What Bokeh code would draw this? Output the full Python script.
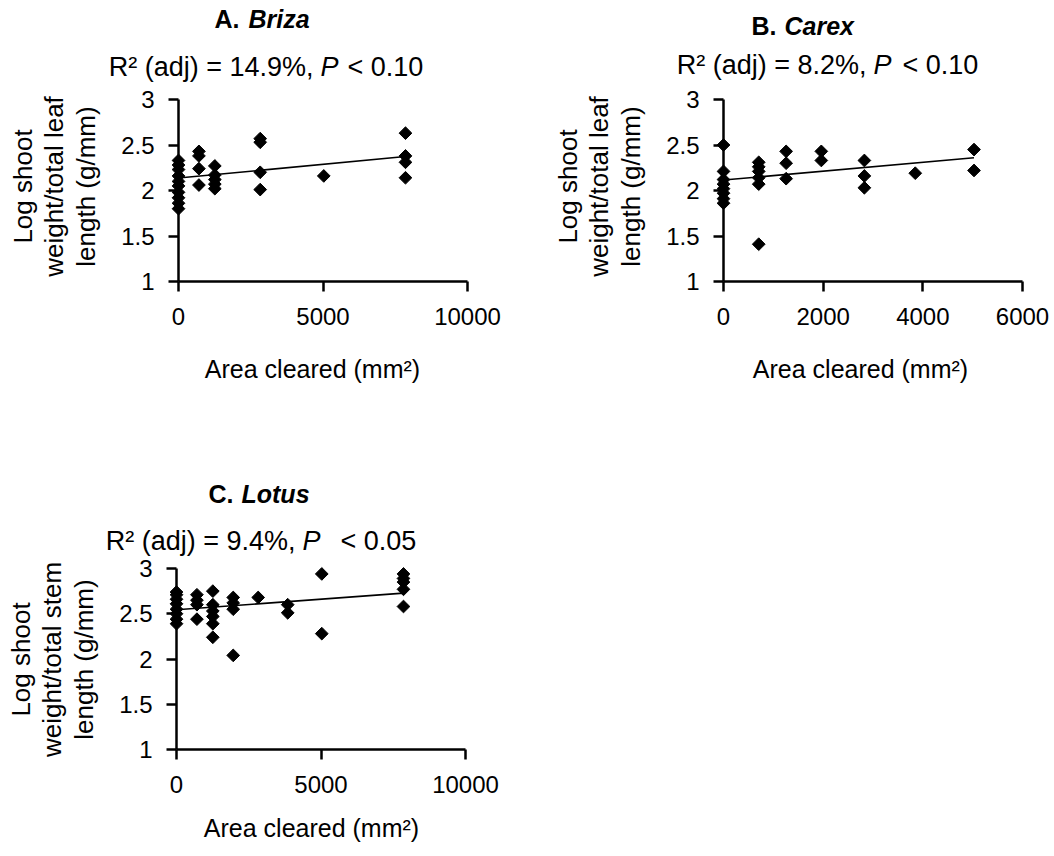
import numpy as np
from bokeh.plotting import figure
from bokeh.models import Range1d, Label, FixedTicker, CustomJSTickFormatter
from bokeh.layouts import column, row
from bokeh.embed import file_html
from bokeh.resources import INLINE

# ---------------- data ----------------
briza_area = [0, 0, 0, 0, 0, 0, 0, 0, 0, 0,
              707, 707, 707, 707,
              1257, 1257, 1257, 1257, 1257,
              2827, 2827, 2827, 2827,
              5027,
              7854, 7854, 7854, 7854]
briza_val = [2.33, 2.28, 2.23, 2.16, 2.10, 2.05, 1.98, 1.92, 1.86, 1.80,
             2.43, 2.38, 2.24, 2.06,
             2.27, 2.17, 2.12, 2.07, 2.02,
             2.57, 2.53, 2.20, 2.01,
             2.16,
             2.63, 2.38, 2.31, 2.14]
briza_fit_x = [0, 7854]
briza_fit_y = [2.137, 2.373]

carex_area = [0, 0, 0, 0, 0, 0, 0, 0,
              707, 707, 707, 707, 707, 707,
              1257, 1257, 1257,
              1963, 1963,
              2827, 2827, 2827,
              3848,
              5027, 5027]
carex_val = [2.50, 2.21, 2.12, 2.07, 2.02, 1.97, 1.91, 1.86,
             2.31, 2.26, 2.21, 2.14, 2.07, 1.41,
             2.43, 2.30, 2.13,
             2.43, 2.33,
             2.33, 2.16, 2.03,
             2.19,
             2.45, 2.22]
carex_fit_x = [0, 5027]
carex_fit_y = [2.115, 2.36]

lotus_area = [0, 0, 0, 0, 0, 0, 0, 0,
              707, 707, 707, 707,
              1257, 1257, 1257, 1257, 1257, 1257,
              1963, 1963, 1963, 1963,
              2827,
              3848, 3848,
              5027, 5027,
              7854, 7854, 7854, 7854, 7854]
lotus_val = [2.74, 2.71, 2.66, 2.61, 2.55, 2.50, 2.44, 2.39,
             2.71, 2.65, 2.60, 2.44,
             2.75, 2.60, 2.53, 2.47, 2.39, 2.24,
             2.68, 2.62, 2.55, 2.04,
             2.68,
             2.60, 2.51,
             2.94, 2.28,
             2.94, 2.89, 2.85, 2.77, 2.58]
lotus_fit_x = [0, 7854]
lotus_fit_y = [2.544, 2.728]

y_ticks = [1, 1.5, 2, 2.5, 3]
x_ticks_10k = [0, 5000, 10000]
x_ticks_6k = [0, 2000, 4000, 6000]

FONT = "Liberation Sans"
W, H = 527, 428
SHIFT = 10  # rendered text sits this many px below the requested baseline


def make_panel(spec):
    ox, oy = spec["offset"]
    x0, x1, ytop, ybot = spec["px"]
    xmax = spec["xmax"]
    kx = xmax / (x1 - x0)
    ky = 2.0 / (ybot - ytop)
    # the frame covers the whole figure so that nothing is clipped
    p = figure(width=W, height=H,
               x_range=Range1d((ox - x0) * kx, (ox + W - x0) * kx),
               y_range=Range1d(3 - (oy + H - ytop) * ky, 3 - (oy - ytop) * ky),
               output_backend="svg", toolbar_location=None,
               min_border_left=0, min_border_right=0,
               min_border_top=0, min_border_bottom=0)
    p.outline_line_color = None
    p.xgrid.visible = False
    p.ygrid.visible = False
    p.background_fill_color = "white"
    p.border_fill_color = "white"

    fmt = CustomJSTickFormatter(code="return String(tick);")
    for ax in (p.xaxis[0], p.yaxis[0]):
        ax.axis_line_width = 2.5
        ax.axis_line_color = "black"
        ax.major_tick_line_width = 2.5
        ax.major_tick_line_color = "black"
        ax.major_tick_out = 10
        ax.major_tick_in = 0
        ax.minor_tick_out = 0
        ax.minor_tick_in = 0
        ax.major_label_text_font = FONT
        ax.major_label_text_font_size = "24px"
        ax.major_label_text_color = "black"
        ax.formatter = fmt
    p.xaxis.ticker = FixedTicker(ticks=spec["xticks"])
    p.xaxis.bounds = (0, xmax)
    p.xaxis.fixed_location = 1
    p.xaxis.major_label_standoff = 16
    p.yaxis.ticker = FixedTicker(ticks=y_ticks)
    p.yaxis.bounds = (1, 3)
    p.yaxis.fixed_location = 0
    p.yaxis.major_label_standoff = 14

    p.line(spec["fx"], spec["fy"], line_color="black", line_width=1.6)
    p.scatter(spec["x"], spec["y"], marker="square", angle=np.pi / 4,
              size=9, fill_color="black", line_color="black")

    def dx(px):
        return (px - x0) * kx

    def dy(py):
        return 3 - (py - ytop) * ky

    def lab(x, y, text, size, align="left", style="normal", angle=0.0):
        p.add_layout(Label(x=dx(x), y=dy(y), text=text, text_font=FONT,
                           text_font_size=size, text_font_style=style,
                           text_align=align, text_baseline="alphabetic",
                           angle=angle, text_color="black"))

    t = spec["title"]
    tb = t["base"] - SHIFT
    lab(t["split"], tb, t["letter"], "25px", align="right", style="bold")
    lab(t["name_x"], tb, t["name"], "25px", align="left", style="bold italic")

    r = spec["r2"]
    rb = r["base"] - SHIFT
    lab(r["p"] - 7, rb, r["head"], "27px", align="right")
    lab(r["p"], rb, "P", "27px", align="left", style="italic")
    lab(r["lt"], rb, r["tail"], "27px", align="left")

    xt = spec["xtitle"]
    lab(xt[0], xt[1] - SHIFT, "Area cleared (mm²)", "25px", align="center")

    ycen = spec["ycenter"]
    for off, line in zip([145, 114, 82], spec["ylines"]):
        lab(x0 - off - SHIFT - 1, ycen, line, "26px", align="center", angle=np.pi / 2)
    return p


pA = make_panel(dict(offset=(0, 0), px=(178, 467, 99, 281), xmax=10000,
                     xticks=x_ticks_10k, x=briza_area, y=briza_val,
                     fx=briza_fit_x, fy=briza_fit_y,
                     title=dict(letter="A.", name="Briza", split=239, name_x=248, base=28),
                     r2=dict(head="R² (adj) = 14.9%,", tail="< 0.10", p=320, lt=347, base=76),
                     xtitle=(312, 378), ycenter=186,
                     ylines=["Log shoot", "weight/total leaf", "length (g/mm)"]))
pB = make_panel(dict(offset=(527, 0), px=(723, 1022, 99, 281), xmax=6000,
                     xticks=x_ticks_6k, x=carex_area, y=carex_val,
                     fx=carex_fit_x, fy=carex_fit_y,
                     title=dict(letter="B.", name="Carex", split=776, name_x=784, base=35),
                     r2=dict(head="R² (adj) = 8.2%,", tail="< 0.10", p=873, lt=902, base=74),
                     xtitle=(860, 378), ycenter=186,
                     ylines=["Log shoot", "weight/total leaf", "length (g/mm)"]))
pC = make_panel(dict(offset=(0, 428), px=(176, 465, 568, 749), xmax=10000,
                     xticks=x_ticks_10k, x=lotus_area, y=lotus_val,
                     fx=lotus_fit_x, fy=lotus_fit_y,
                     title=dict(letter="C.", name="Lotus", split=233, name_x=241, base=503),
                     r2=dict(head="R² (adj) = 9.4%,", tail="< 0.05", p=302, lt=340, base=550),
                     xtitle=(311, 837), ycenter=659,
                     ylines=["Log shoot", "weight/total stem", "length (g/mm)"]))

layout = column(row(pA, pB), pC)
open("out.html", "w").write(file_html(layout, INLINE))
